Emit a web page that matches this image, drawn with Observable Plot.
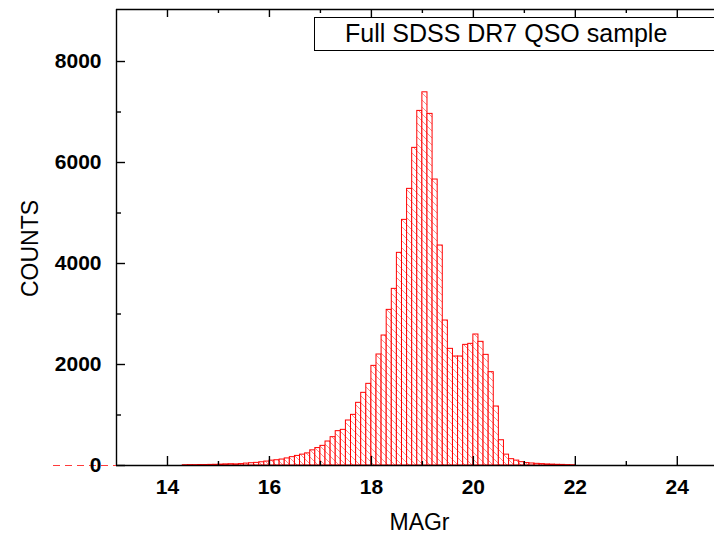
<!DOCTYPE html>
<html>
<head>
<meta charset="utf-8">
<script src="https://cdn.jsdelivr.net/npm/d3@7"></script>
<script src="https://cdn.jsdelivr.net/npm/@observablehq/plot@0.6"></script>
<style>
  html, body { margin: 0; padding: 0; background: #fff; overflow: hidden; }
  #wrap { position: relative; width: 714px; height: 540px; overflow: hidden; }
  #legend {
    position: absolute; left: 314px; top: 17px; width: 420px; height: 34px;
    box-sizing: border-box; border: 1px solid #000; background: #fff;
    font-family: "Liberation Sans", Arial, sans-serif; font-size: 25px;
    line-height: 31px; padding-left: 30px; color: #000; white-space: nowrap;
  }
</style>
</head>
<body>
<div id="wrap"></div>
<script>
// Bin left edges (MAGr), width 0.1
const binLeft = [
  14.3,14.4,14.5,14.6,14.7,14.8,14.9,15.0,15.1,15.2,15.3,15.4,15.5,15.6,15.7,15.8,15.9,
  16.0,16.1,16.2,16.3,16.4,16.5,16.6,16.7,16.8,16.9,
  17.0,17.1,17.2,17.3,17.4,17.5,17.6,17.7,17.8,17.9,
  18.0,18.1,18.2,18.3,18.4,18.5,18.6,18.7,18.8,18.9,
  19.0,19.1,19.2,19.3,19.4,19.5,19.6,19.7,19.8,19.9,
  20.0,20.1,20.2,20.3,20.4,20.5,20.6,20.7,20.8,20.9,
  21.0,21.1,21.2,21.3,21.4,21.5,21.6,21.7,21.8,21.9
];
const binWidth = 0.1;
const counts = [
  6,8,8,10,10,12,14,18,22,25,22,28,38,45,52,64,78,
  96,104,118,140,165,190,215,240,300,345,
  389,475,561,680,706,891,1003,1241,1439,1617,
  1973,2198,2574,3082,3498,4211,4864,5478,6290,7022,
  7390,6963,5663,4356,2871,2310,2158,2158,2389,2409,
  2594,2449,2191,1848,1168,500,215,125,97,66,
  48,40,33,27,21,18,14,12,8,6
];
const xMajor = [14, 16, 18, 20, 22, 24];
const xMinor = [15, 17, 19, 21, 23];
const yMajor = [0, 2000, 4000, 6000, 8000];
const yMinor = [1000, 3000, 5000, 7000];
const xTitle = "MAGr";
const yTitle = "COUNTS";
const legendText = "Full SDSS DR7 QSO sample";

const bins = binLeft.map((x, i) => ({x1: x, x2: x + binWidth, count: counts[i]}));
const yTop = 9030;

const chart = Plot.plot({
  width: 714,
  height: 540,
  marginLeft: 116,
  marginRight: 0,
  marginTop: 9,
  marginBottom: 75,
  style: {fontFamily: "Liberation Sans, Arial, sans-serif", background: "#fff", color: "#000"},
  x: {domain: [13, 24.73]},
  y: {domain: [0, yTop]},
  marks: [
    Plot.ruleY([0], {stroke: "#ff3b3b", strokeDasharray: "7,5", insetLeft: -63, insetRight: 598}),
    Plot.rectY(bins, {x1: "x1", x2: "x2", y: "count", fill: "url(#hatch)", stroke: "#ff0000", strokeWidth: 1}),
    // frame lines
    Plot.ruleX([13], {stroke: "#000", strokeWidth: 1.4}),
    Plot.ruleY([0], {stroke: "#000", strokeWidth: 1.4}),
    Plot.ruleY([yTop], {stroke: "#000", strokeWidth: 1.4}),
    // inward ticks bottom
    Plot.ruleX(xMajor, {x: d => d, y1: 0, y2: 0, insetTop: -9, stroke: "#000", strokeWidth: 1.4}),
    Plot.ruleX(xMinor, {x: d => d, y1: 0, y2: 0, insetTop: -4, stroke: "#000", strokeWidth: 1.4}),
    // inward ticks top
    Plot.ruleX(xMajor, {x: d => d, y1: yTop, y2: yTop, insetBottom: -8, stroke: "#000", strokeWidth: 1.4}),
    Plot.ruleX(xMinor, {x: d => d, y1: yTop, y2: yTop, insetBottom: -4, stroke: "#000", strokeWidth: 1.4}),
    // inward ticks left
    Plot.ruleY(yMajor, {y: d => d, x1: 13, x2: 13, insetRight: -9, stroke: "#000", strokeWidth: 1.4}),
    Plot.ruleY(yMinor, {y: d => d, x1: 13, x2: 13, insetRight: -5, stroke: "#000", strokeWidth: 1.4}),
    Plot.axisX({ticks: xMajor, tickSize: 0, tickPadding: 14, fontSize: 21, fontWeight: "bold", tickFormat: d => String(d), label: null}),
    Plot.axisY({ticks: yMajor, tickSize: 0, tickPadding: 15, fontSize: 21, fontWeight: "bold", tickFormat: d => String(d), label: null}),
    Plot.text([yTitle], {text: d => d, frameAnchor: "left", textAnchor: "middle", lineAnchor: "middle", rotate: -90, dx: -86, dy: 11, fontSize: 23, fill: "#000"}),
    Plot.text([xTitle], {text: d => d, frameAnchor: "bottom", textAnchor: "middle", lineAnchor: "middle", dx: 4, dy: 57, fontSize: 23, fill: "#000"})
  ]
});

// hatch pattern definition
const ns = "http://www.w3.org/2000/svg";
const defs = document.createElementNS(ns, "defs");
defs.innerHTML = '<pattern id="hatch" patternUnits="userSpaceOnUse" width="7" height="7">' +
  '<rect width="7" height="7" fill="#fff"/>' +
  '<path d="M-1,-1 L8,8 M-1,6 L1,8 M6,-1 L8,1" stroke="#ff8a8a" stroke-width="1"/></pattern>';
chart.insertBefore(defs, chart.firstChild);
chart.querySelectorAll('g[aria-label="rect"] rect').forEach(r => {
  if (!r.getAttribute("fill") || !r.getAttribute("fill").startsWith("url")) r.setAttribute("fill", "url(#hatch)");
});
const rg = chart.querySelector('g[aria-label="rect"]');
if (rg && rg.getAttribute("fill") && !rg.getAttribute("fill").startsWith("url")) rg.setAttribute("fill", "url(#hatch)");

const wrap = document.getElementById("wrap");
wrap.appendChild(chart);
const lg = document.createElement("div");
lg.id = "legend";
lg.textContent = legendText;
wrap.appendChild(lg);
</script>
</body>
</html>
